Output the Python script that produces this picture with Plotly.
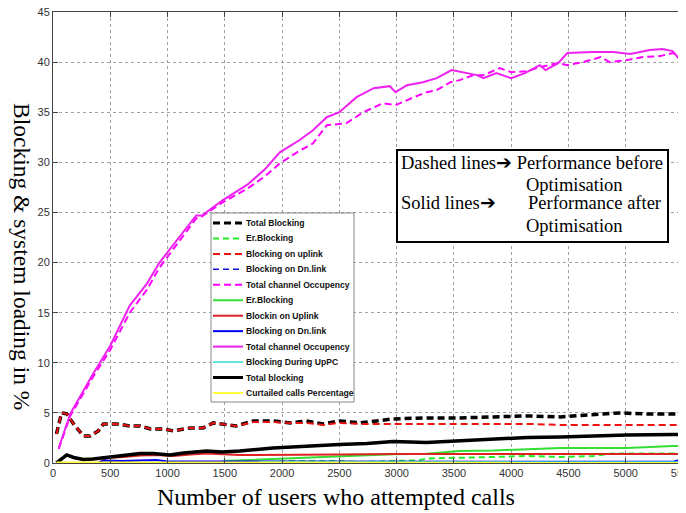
import plotly.graph_objects as go

# ---------------- data ----------------
x_tb_before = [30,75,120,180,265,325,395,440,555,670,760,850,960,1050,1200,1310,1400,1480,1600,1750,
               1920,2070,2210,2360,2500,2680,2970,3260,3550,3850,4140,4430,4720,4950,5150,5410,5500]
y_tb_before = [2.9,5.0,4.9,3.9,2.7,2.7,3.2,3.9,3.9,3.7,3.7,3.4,3.4,3.2,3.5,3.5,4.0,3.9,3.7,4.2,
               4.2,4.0,4.2,3.9,4.2,4.0,4.4,4.5,4.5,4.6,4.7,4.6,4.8,5.0,4.9,4.9,4.9]

x_er_before = [1800,2070,2500,2680,2970,3200,3260,3550,3850,4140,4430,4720,4890,5150,5410,5500]
y_er_before = [0.05,0.2,0.2,0.1,0.2,0.27,0.45,0.5,0.6,0.7,0.6,0.7,0.95,0.95,0.95,0.95]

x_ul_before = [30,75,120,180,265,325,395,440,555,670,760,850,960,1050,1200,1310,1400,1480,1600,1750,
               1920,2070,2210,2360,2500,2680,2970,3260,3550,3850,4140,4430,4720,4950,5150,5410,5500]
y_ul_before = [2.9,5.0,4.9,3.9,2.7,2.7,3.2,3.9,3.9,3.7,3.7,3.4,3.4,3.2,3.5,3.5,4.0,3.9,3.7,4.1,
               4.1,4.0,4.0,3.8,4.0,3.9,3.9,3.95,3.9,3.9,3.9,3.8,3.8,3.8,3.75,3.8,3.8]

x_dl_before = [1800,3000,4000,5000,5500]
y_dl_before = [0.05,0.08,0.08,0.08,0.08]

x_occ_before = [50,150,350,500,670,820,930,1080,1250,1300,1480,1700,1850,1980,2130,2270,2390,2560,2710,2880,
                2990,3150,3260,3350,3470,3550,3670,3760,3900,4000,4140,4250,4410,4490,4630,4780,4860,5010,5150,5300,
                5410,5460,5500]
y_occ_before = [1.4,4.7,8.6,11.3,15.0,17.3,19.5,21.8,24.4,24.6,26.0,27.4,28.6,29.9,31.0,31.9,33.7,33.9,35.0,35.9,
                35.7,36.5,37.0,37.2,38.0,38.2,38.7,38.7,39.4,39.0,39.1,39.5,39.9,39.7,40.0,40.5,40.0,40.2,40.5,40.6,
                40.9,40.7,40.5]

x_er_after = [1480,1700,1920,2210,2500,2680,2970,3260,3550,3850,4140,4430,4720,5010,5410,5500]
y_er_after = [0.2,0.3,0.45,0.55,0.7,0.73,0.87,0.93,1.2,1.25,1.35,1.5,1.5,1.5,1.7,1.7]

x_ul_after = [400,470,615,760,900,1050,1200,1340,1630,1920,2210,2500,2970,3550,4140,4720,5010,5410,5500]
y_ul_after = [0.05,0.5,0.6,0.75,0.8,0.7,0.85,0.95,0.8,0.8,0.85,0.85,0.9,0.9,0.9,0.9,0.85,0.9,0.9]

x_dl_after = [400,450,600,700,760,900,1000,1200,1500,1800,2200,3000,4000,5000,5420,5450,5500]
y_dl_after = [0.05,0.25,0.2,0.25,0.3,0.3,0.15,0.15,0.2,0.2,0.15,0.13,0.13,0.13,0.13,0.25,0.2]

x_occ_after = [50,150,350,500,670,820,930,1080,1250,1300,1480,1700,1850,1980,2150,2270,2390,2500,2650,2800,
               2940,2990,3090,3230,3350,3480,3580,3700,3760,3870,4000,4120,4250,4300,4410,4490,4710,4890,5040,5210,
               5320,5410,5460,5500]
y_occ_after = [1.5,4.9,8.9,11.7,15.7,17.9,20.0,22.2,24.7,24.7,26.2,27.8,29.3,31.0,32.2,33.2,34.5,35.0,36.5,37.4,
               37.6,37.0,37.7,38.0,38.4,39.2,39.0,38.7,38.4,38.9,38.4,38.9,39.7,39.2,39.9,40.9,41.0,41.0,40.8,41.2,
               41.3,41.1,40.4,40.2]

x_uppc = [1800,3000,4000,5000,5500]
y_uppc = [0.1,0.1,0.1,0.1,0.1]

x_tb_after = [30,120,180,265,350,470,615,760,875,1020,1140,1340,1480,1630,1920,2210,2500,2740,2970,3260,
              3550,3850,4140,4430,4720,5010,5410,5500]
y_tb_after = [0.0,0.8,0.55,0.35,0.4,0.55,0.7,0.95,0.95,0.8,1.0,1.2,1.1,1.2,1.5,1.7,1.85,1.95,2.15,2.05,
              2.2,2.4,2.55,2.6,2.7,2.8,2.85,2.85]

x_curt = [30,400,1000,2000,3000,4000,5000,5500]
y_curt = [0.05,0.05,0.03,0.03,0.03,0.03,0.03,0.03]

x_ticks = list(range(0, 5501, 500))
y_ticks = list(range(0, 46, 5))

# ---------------- figure ----------------
series = [
    ("Total Blocking", x_tb_before, y_tb_before, "#000000", "7px,4px", 3.5),
    ("Er.Blocking", x_er_before, y_er_before, "#22ee22", "6px,4px", 2),
    ("Blocking on uplink", x_ul_before, y_ul_before, "#ee1111", "7px,4px", 2),
    ("Blocking on Dn.link", x_dl_before, y_dl_before, "#1111dd", "6px,4px", 1.5),
    ("Total channel Occupency", x_occ_before, y_occ_before, "#ff00ff", "7px,4px", 2),
    ("Er.Blocking", x_er_after, y_er_after, "#33dd33", "solid", 2),
    ("Blockin on Uplink", x_ul_after, y_ul_after, "#dd2222", "solid", 2),
    ("Blocking on Dn.link", x_dl_after, y_dl_after, "#0000ff", "solid", 2),
    ("Total channel Occupency", x_occ_after, y_occ_after, "#ee22ee", "solid", 2),
    ("Blocking During UpPC", x_uppc, y_uppc, "#33dddd", "solid", 1.5),
    ("Total blocking", x_tb_after, y_tb_after, "#000000", "solid", 3.5),
    ("Curtailed calls Percentage", x_curt, y_curt, "#ffff33", "solid", 2),
]

fig = go.Figure()
for name, xs, ys, col, dash, w in series:
    fig.add_trace(go.Scatter(x=xs, y=ys, mode="lines", name=name,
                             line=dict(color=col, dash=dash, width=w)))

# page body has an 8px margin: figure sits at (8, 8)
OFF = 8
W, H = 686 - OFF, 513 - OFF
L, R, T, B = 53 - OFF, 3, 12 - OFF, 50
PW, PH = W - L - R, H - T - B


def px(xp):
    return (xp - OFF - L) / PW


def py(yp):
    return (H - B - (yp - OFF)) / PH


tickfont = dict(family="Liberation Sans Narrow, Arial Narrow, Liberation Sans, Arial, sans-serif",
                size=11, color="#333333")
axis_common = dict(showline=True, linecolor="#444444", linewidth=1, mirror="ticks",
                   ticks="inside", ticklen=5, tickcolor="#444444",
                   showgrid=True, gridcolor="#a0a0a0", griddash="dot", gridwidth=1,
                   zeroline=False, tickfont=tickfont, automargin=False,
                   ticklabeloverflow="allow")

fig.update_layout(
    width=W, height=H,
    margin=dict(l=L, r=R, t=T, b=B),
    paper_bgcolor="white", plot_bgcolor="white",
    showlegend=False,
    xaxis=dict(range=[0, 5500], tickmode="array", tickvals=x_ticks,
               ticktext=[str(v) for v in x_ticks], **axis_common),
    yaxis=dict(range=[0, 45], tickmode="array", tickvals=y_ticks,
               ticktext=[str(v) for v in y_ticks], **axis_common),
)

serif = "Liberation Serif, Times New Roman, serif"
# axis titles
fig.add_annotation(xref="paper", yref="paper", x=px(336), y=py(497),
                   text="Number of users who attempted calls", showarrow=False,
                   font=dict(family=serif, size=24, color="black"), xanchor="center", yanchor="middle")
fig.add_annotation(xref="paper", yref="paper", x=px(22), y=py(256),
                   text="Blocking & system loading in %", showarrow=False, textangle=90,
                   font=dict(family=serif, size=23.5, color="black"), xanchor="center", yanchor="middle")

# legend box drawn in the reference's compact style
fig.add_shape(type="rect", xref="paper", yref="paper", x0=px(211), x1=px(354), y0=py(402), y1=py(213),
              line=dict(color="#888888", width=1), fillcolor="white", layer="above")
leg_font = dict(family="Liberation Sans Narrow, Arial Narrow, Liberation Sans, Arial, sans-serif",
                size=8.6, color="#111111", weight="bold")
for i, (name, xs, ys, col, dash, w) in enumerate(series):
    yy = 223 + i * 15.45
    fig.add_shape(type="line", xref="paper", yref="paper", x0=px(213), x1=px(243), y0=py(yy), y1=py(yy),
                  line=dict(color=col, dash=dash, width=min(w, 3)), layer="above")
    fig.add_annotation(xref="paper", yref="paper", x=px(244), y=py(yy), text=name, showarrow=False,
                       xanchor="left", yanchor="middle", font=leg_font)

# info box
fig.add_shape(type="rect", xref="paper", yref="paper", x0=px(397), x1=px(668), y0=py(242), y1=py(150),
              line=dict(color="black", width=2), fillcolor="white", layer="above")
box_font = dict(family=serif, size=18.5, color="black")
box_lines = [
    (399, 163, "Dashed lines\u2794 Performance before"),
    (524, 185, "Optimisation"),
    (399, 203, "Solid lines\u2794"),
    (526, 203, "Performance after"),
    (524, 226, "Optimisation"),
]
for bx, by, txt in box_lines:
    fig.add_annotation(xref="paper", yref="paper", x=px(bx), y=py(by), text=txt, showarrow=False,
                       xanchor="left", yanchor="middle", font=box_font)

fig.write_html("out.html")
